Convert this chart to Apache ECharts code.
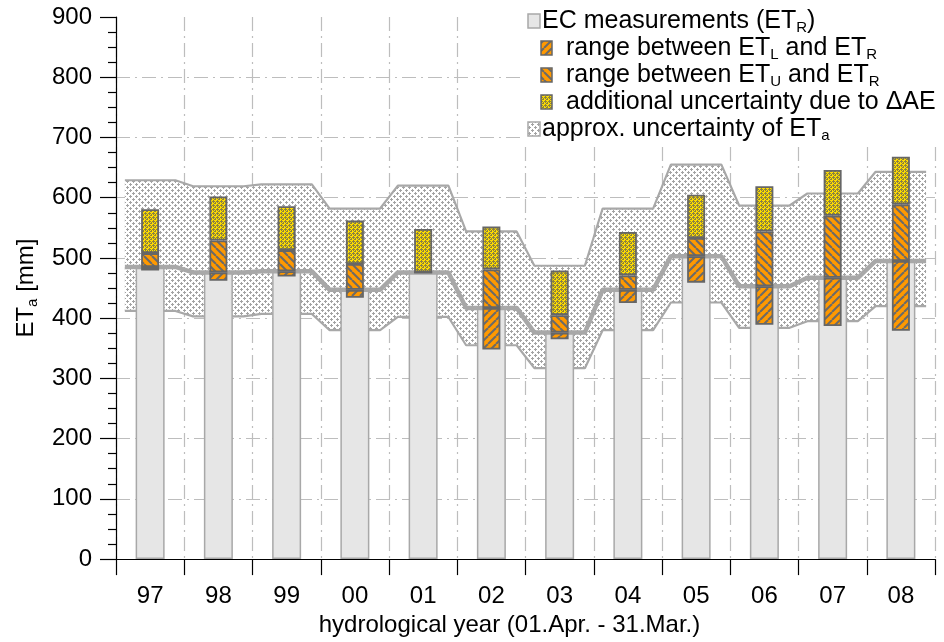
<!DOCTYPE html>
<html>
<head>
<meta charset="utf-8">
<script src="https://cdn.jsdelivr.net/npm/echarts@6/dist/echarts.min.js"></script>
<style>
  html, body { margin: 0; padding: 0; background: #fff; }
  #chart { width: 944px; height: 642px; }
</style>
</head>
<body>
<div id="chart"></div>
<script>
// hydrological years (01.Apr. - 31.Mar.)
const years = ['97', '98', '99', '00', '01', '02', '03', '04', '05', '06', '07', '08'];
// EC measurements ET_R [mm]
const etR = [485, 476, 478, 447, 476, 417, 376, 447, 503, 453, 467, 495];
// lower estimate ET_L [mm]
const etL = [479, 462, 469, 434, 476, 348, 365, 425, 459, 389, 387, 379];
// upper estimate ET_U [mm]
const etU = [508, 529, 513, 490, 476, 481, 405, 471, 533, 544, 570, 589];
// top of the additional uncertainty due to ΔAE [mm]
const etTop = [581, 602, 586, 562, 548, 552, 479, 543, 605, 619, 646, 668];
// approx. uncertainty band of ET_a [mm]
const bandUpper = [629, 619, 622, 582, 620, 544, 487, 582, 655, 587, 607, 643];
const bandLower = [412, 403, 407, 380, 402, 355, 317, 380, 426, 384, 395, 420];
// y axis ticks
const yMin = 0, yMax = 900, yStep = 100;

const FONT = '"Liberation Sans", Arial, Helvetica, sans-serif';
const HALF = 0.37; // half length of the flat step of the band lines (in categories)

function tile(size, bg, draw) {
  const c = document.createElement('canvas');
  c.width = c.height = size;
  const g = c.getContext('2d');
  g.fillStyle = bg;
  g.fillRect(0, 0, size, size);
  draw(g, size);
  return { image: c, repeat: 'repeat' };
}
function dots(color) {
  return function (g, s) {
    g.fillStyle = color;
    const h = s / 2;
    [[1, 1], [1 + h, 1 + h]].forEach(function (p) {
      g.fillRect(p[0] - 1, p[1], 3, 1);
      g.fillRect(p[0], p[1] - 1, 1, 3);
    });
  };
}
function hatch(dir, color) {
  return function (g, s) {
    g.strokeStyle = color;
    g.lineWidth = 2;
    [-s, 0, s].forEach(function (o) {
      g.beginPath();
      if (dir === '/') { g.moveTo(o, s); g.lineTo(o + s, 0); }
      else { g.moveTo(o, 0); g.lineTo(o + s, s); }
      g.stroke();
    });
  };
}

const bandFill = tile(6, '#ffffff', dots('#a3a3a3'));
const yellowFill = tile(4, '#ffdc00', dots('#8a8240'));
const lowFill = tile(8, '#ff9900', hatch('/', '#6a6a6a'));
const upFill = tile(8, '#ff9900', hatch('\\', '#6a6a6a'));

const GREY_LINE = '#a8a8a8';
const BAR_EDGE = '#666666';

function steps(values) {
  const out = [];
  values.forEach(function (v, i) { out.push([i - HALF, v]); out.push([i + HALF, v]); });
  return out;
}
function diff(a, b) { return a.map(function (v, i) { return v - b[i]; }); }

const gridDash = { color: '#bdbdbd', width: 1.2, type: [14, 5, 2, 5] };

const axisRich = {
  m: { fontSize: 24, fontFamily: FONT, color: '#000', lineHeight: 28 },
  s: { fontSize: 15, fontFamily: FONT, color: '#000', lineHeight: 12, verticalAlign: 'bottom' }
};
const legendRich = {
  m: { fontSize: 25, fontFamily: FONT, color: '#000', lineHeight: 28 },
  s: { fontSize: 15, fontFamily: FONT, color: '#000', lineHeight: 12, verticalAlign: 'bottom' }
};

function legendText(x, y, text) {
  return {
    type: 'text', x: x, y: y, z: 101,
    style: { text: text, rich: legendRich, verticalAlign: 'middle', align: 'left' }
  };
}
function legendIcon(x, y, w, h, fill, stroke) {
  return {
    type: 'rect', z: 101,
    shape: { x: x, y: y, width: w, height: h },
    style: { fill: fill, stroke: stroke, lineWidth: 1.5 }
  };
}

const chart = echarts.init(document.getElementById('chart'), null, { renderer: 'canvas' });

chart.setOption({
  animation: false,
  backgroundColor: '#ffffff',
  grid: { left: 116, right: 9, top: 17, bottom: 80 },
  xAxis: [
    {
      type: 'category', data: years, position: 'bottom',
      axisLine: { show: true, onZero: false, lineStyle: { color: '#000', width: 1.2 } },
      axisTick: { show: true, length: 16, interval: 0, lineStyle: { color: '#000', width: 1.2 } },
      axisLabel: { fontSize: 24, fontFamily: FONT, color: '#000', margin: 25, interval: 0 },
      splitLine: { show: true, interval: 0, lineStyle: gridDash },
      name: 'hydrological year (01.Apr. - 31.Mar.)',
      nameLocation: 'middle', nameGap: 52,
      nameTextStyle: { fontSize: 24, fontFamily: FONT, color: '#000', padding: [0, 32, 0, 0] }
    },
    { type: 'value', min: -0.5, max: 11.5, show: false },
    { type: 'category', data: years, show: false }
  ],
  yAxis: {
    type: 'value', min: yMin, max: yMax, interval: yStep,
    axisLine: { show: true, onZero: false, lineStyle: { color: '#000', width: 1.2 } },
    axisTick: { show: true, length: 16, lineStyle: { color: '#000', width: 1.2 } },
    minorTick: { show: true, splitNumber: 4, length: 8, lineStyle: { color: '#000', width: 1.2 } },
    axisLabel: { fontSize: 24, fontFamily: FONT, color: '#000', margin: 24 },
    splitLine: { show: true, showMinLine: false, showMaxLine: false, lineStyle: gridDash },
    name: '{m|ET}{s|a}{m| [mm]}',
    nameLocation: 'middle', nameRotate: 90, nameGap: 76,
    nameTextStyle: { rich: axisRich }
  },
  series: [
    {
      name: 'approx. uncertainty of ETa',
      type: 'custom', xAxisIndex: 1, yAxisIndex: 0, z: 1,
      data: bandUpper.map(function (v, i) { return [i, v]; }),
      renderItem: function (params, api) {
        if (params.dataIndex !== 0) return null;
        const pts = [];
        bandUpper.forEach(function (v, i) {
          pts.push(api.coord([i - HALF, v]));
          pts.push(api.coord([i + HALF, v]));
        });
        for (let i = bandLower.length - 1; i >= 0; i--) {
          pts.push(api.coord([i + HALF, bandLower[i]]));
          pts.push(api.coord([i - HALF, bandLower[i]]));
        }
        return { type: 'polygon', shape: { points: pts }, style: { fill: bandFill, stroke: null } };
      }
    },
    {
      name: 'band upper', type: 'line', xAxisIndex: 1, z: 1, symbol: 'none',
      data: steps(bandUpper), lineStyle: { color: GREY_LINE, width: 2.2 }
    },
    {
      name: 'band lower', type: 'line', xAxisIndex: 1, z: 1, symbol: 'none',
      data: steps(bandLower), lineStyle: { color: GREY_LINE, width: 2.2 }
    },
    {
      name: 'EC measurements (ETR)', type: 'bar', xAxisIndex: 0, z: 2, barWidth: 29,
      data: etR,
      itemStyle: { color: '#e6e6e6', borderColor: GREY_LINE, borderWidth: 1.5 }
    },
    {
      name: 'ETR', type: 'line', xAxisIndex: 1, z: 3, symbol: 'none',
      data: steps(etR), lineStyle: { color: GREY_LINE, width: 4.5 }
    },
    {
      name: 'base', type: 'bar', xAxisIndex: 2, stack: 'unc', z: 4, barWidth: 18,
      data: etL, itemStyle: { color: 'rgba(0,0,0,0)', borderWidth: 0 }, silent: true
    },
    {
      name: 'range between ETL and ETR', type: 'bar', xAxisIndex: 2, stack: 'unc', z: 4, barWidth: 18,
      data: diff(etR, etL),
      itemStyle: { color: lowFill, borderColor: BAR_EDGE, borderWidth: 1.8 }
    },
    {
      name: 'range between ETU and ETR', type: 'bar', xAxisIndex: 2, stack: 'unc', z: 4, barWidth: 18,
      data: diff(etU, etR),
      itemStyle: { color: upFill, borderColor: BAR_EDGE, borderWidth: 1.8 }
    },
    {
      name: 'additional uncertainty due to ΔAE', type: 'bar', xAxisIndex: 2, stack: 'unc', z: 4, barWidth: 18,
      data: diff(etTop, etU),
      itemStyle: { color: yellowFill, borderColor: BAR_EDGE, borderWidth: 1.8 }
    }
  ],
  graphic: [
    { type: 'rect', z: 100, shape: { x: 522, y: 0, width: 422, height: 144 }, style: { fill: '#ffffff' } },
    legendIcon(528, 14, 12, 14, '#e6e6e6', GREY_LINE),
    legendText(542, 21, '{m|EC measurements (ET}{s|R}{m|)}'),
    legendIcon(541, 41, 11, 14, lowFill, BAR_EDGE),
    legendText(566, 48, '{m|range between ET}{s|L}{m| and ET}{s|R}'),
    legendIcon(541, 68, 11, 14, upFill, BAR_EDGE),
    legendText(566, 75, '{m|range between ET}{s|U}{m| and ET}{s|R}'),
    legendIcon(541, 95, 11, 14, yellowFill, BAR_EDGE),
    legendText(566, 102, '{m|additional uncertainty due to ΔAE}'),
    legendIcon(528, 122, 12, 14, bandFill, GREY_LINE),
    legendText(542, 129, '{m|approx. uncertainty of ET}{s|a}')
  ]
});
</script>
</body>
</html>
